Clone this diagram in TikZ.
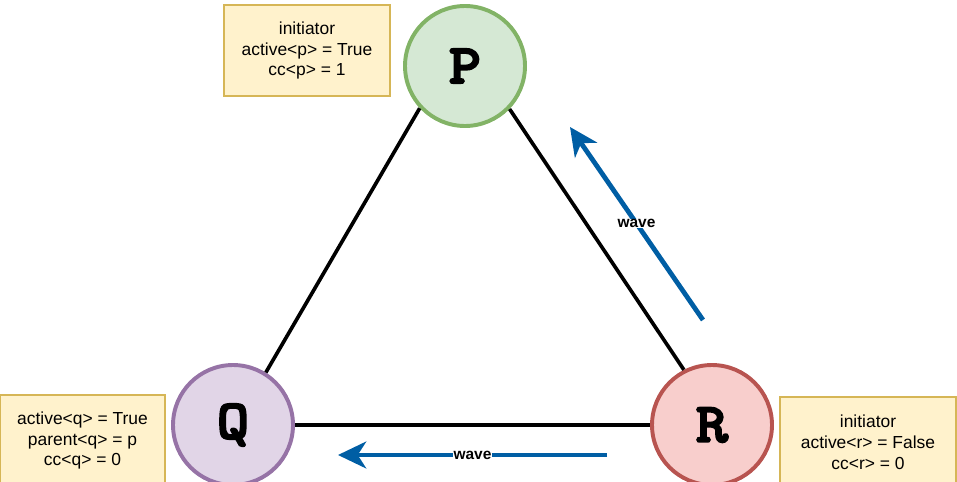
\documentclass[tikz,border=0pt]{standalone}
\usepackage{fontspec}
\setmainfont{Liberation Sans}
\newfontfamily\procfont[FakeBold=3, FakeStretch=1.1]{lmmonolt10-bold.otf}
\usetikzlibrary{arrows.meta,positioning}
\definecolor{pfill}{RGB}{213,232,212}
\definecolor{pdraw}{RGB}{130,179,102}
\definecolor{qfill}{RGB}{225,213,231}
\definecolor{qdraw}{RGB}{150,115,166}
\definecolor{rfill}{RGB}{248,206,204}
\definecolor{rdraw}{RGB}{184,84,80}
\definecolor{notefill}{RGB}{255,242,204}
\definecolor{notedraw}{RGB}{214,182,86}
\definecolor{waveblue}{RGB}{0,94,164}

\begin{document}
\begin{tikzpicture}[
    proc/.style={circle, draw, line width=2.8pt, minimum size=3.0cm, inner sep=0pt,
                 font=\fontsize{40}{40}\selectfont\procfont},
    note/.style={rectangle, draw=notedraw, fill=notefill, line width=0.8pt,
                 minimum height=2.275cm, font=\fontsize{12.4}{14.9}\selectfont, align=center},
    link/.style={line width=2.6pt},
    wave/.style={-{Stealth[length=20pt, width=19pt, inset=6pt]}, line width=3.4pt, waveblue},
    wavelbl/.style={fill=white, text=black, inner sep=0.5pt,
                    font=\fontsize{11}{11}\selectfont\bfseries}
]
\useasboundingbox (0,0) rectangle (23.925,12.025);

\node[proc, draw=pdraw, fill=pfill] (P) at (11.625, 10.375) {P};
\node[proc, draw=qdraw, fill=qfill] (Q) at (5.825, 1.4) {Q};
\node[proc, draw=rdraw, fill=rfill] (R) at (17.8, 1.4) {R};

\node[note, minimum width=4.15cm] (pnote) at (7.675, 10.7625)
    {initiator\\active<p> = True\\cc<p> = 1};
\node[note, minimum width=4.125cm] (qnote) at (2.0625, 1.0125)
    {active<q> = True\\parent<q> = p\\cc<q> = 0};
\node[note, minimum width=4.4cm] (rnote) at (21.7, 0.9625)
    {initiator\\active<r> = False\\cc<r> = 0};

\draw[link] (P.223) -- (Q.58);
\draw[link] (P.316) -- (R.117);
\draw[link] (Q) -- (R);

% waves
\coordinate (w1s) at (17.575, 4.025);
\coordinate (w1e) at (14.25, 8.85);
\coordinate (w2s) at (15.175, 0.65);
\coordinate (w2e) at (8.45, 0.65);
\draw[wave] (w1s) -- node[wavelbl] {wave} (w1e);
\draw[wave] (w2s) -- node[wavelbl] {wave} (w2e);
\end{tikzpicture}
\end{document}
